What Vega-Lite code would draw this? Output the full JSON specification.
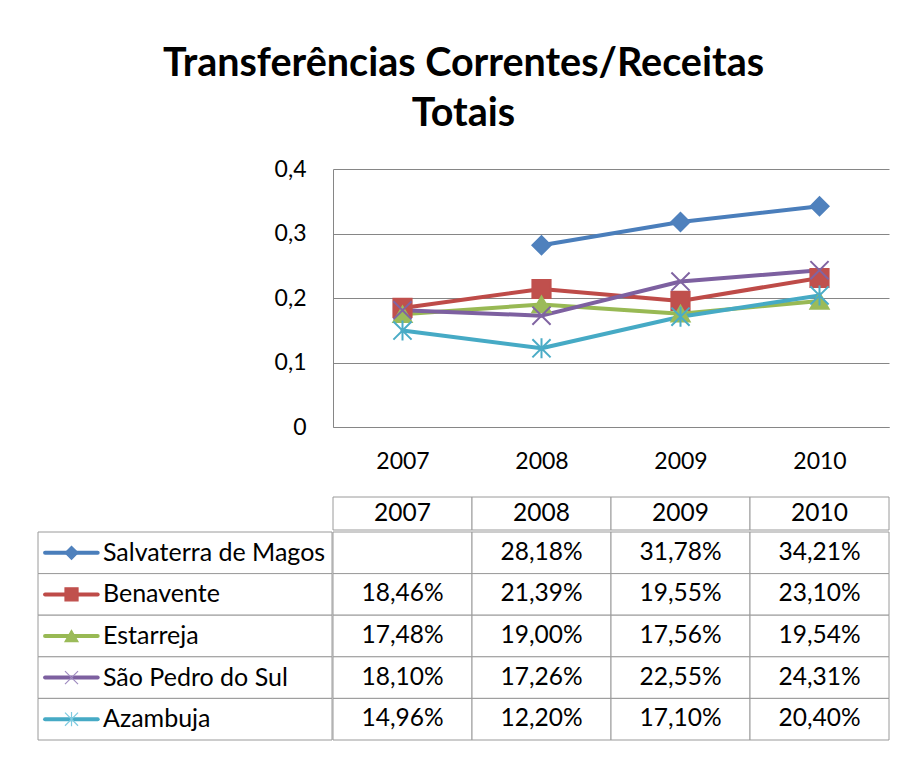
{
  "$schema": "https://vega.github.io/schema/vega-lite/v6.json",
  "background": "white",
  "autosize": {"type": "pad"},
  "padding": {"left": 37, "top": 43, "right": 14, "bottom": 15},
  "config": {
    "locale": {"number": {"decimal": ",", "thousands": ".", "grouping": [3], "currency": ["", " €"]}},
    "font": "Lato",
    "view": {"stroke": null},
    "concat": {"spacing": 0}
  },
  "title": {
    "text": ["Transferências Correntes/Receitas", "Totais"],
    "font": "Lato",
    "fontSize": 39.5,
    "fontWeight": "bold",
    "lineHeight": 50,
    "anchor": "middle",
    "offset": 24,
    "color": "#000000"
  },
  "datasets": {
    "d": [
      {"serie": "Salvaterra de Magos", "ano": "2007", "v": null},
      {"serie": "Salvaterra de Magos", "ano": "2008", "v": 0.2818},
      {"serie": "Salvaterra de Magos", "ano": "2009", "v": 0.3178},
      {"serie": "Salvaterra de Magos", "ano": "2010", "v": 0.3421},
      {"serie": "Benavente", "ano": "2007", "v": 0.1846},
      {"serie": "Benavente", "ano": "2008", "v": 0.2139},
      {"serie": "Benavente", "ano": "2009", "v": 0.1955},
      {"serie": "Benavente", "ano": "2010", "v": 0.2310},
      {"serie": "Estarreja", "ano": "2007", "v": 0.1748},
      {"serie": "Estarreja", "ano": "2008", "v": 0.1900},
      {"serie": "Estarreja", "ano": "2009", "v": 0.1756},
      {"serie": "Estarreja", "ano": "2010", "v": 0.1954},
      {"serie": "São Pedro do Sul", "ano": "2007", "v": 0.1810},
      {"serie": "São Pedro do Sul", "ano": "2008", "v": 0.1726},
      {"serie": "São Pedro do Sul", "ano": "2009", "v": 0.2255},
      {"serie": "São Pedro do Sul", "ano": "2010", "v": 0.2431},
      {"serie": "Azambuja", "ano": "2007", "v": 0.1496},
      {"serie": "Azambuja", "ano": "2008", "v": 0.1220},
      {"serie": "Azambuja", "ano": "2009", "v": 0.1710},
      {"serie": "Azambuja", "ano": "2010", "v": 0.2040}
    ],
    "anos": [{"ano": "2007"}, {"ano": "2008"}, {"ano": "2009"}, {"ano": "2010"}],
    "series": [
      {"serie": "Salvaterra de Magos"},
      {"serie": "Benavente"},
      {"serie": "Estarreja"},
      {"serie": "São Pedro do Sul"},
      {"serie": "Azambuja"}
    ],
    "vazio": []
  },
  "spacing": -71,
  "resolve": {"scale": {"x": "independent", "y": "independent", "color": "independent", "shape": "independent", "fill": "independent", "stroke": "independent"}},
  "hconcat": [
    {
      "spacing": 0,
      "resolve": {"scale": {"x": "independent", "y": "independent", "color": "independent", "shape": "independent", "fill": "independent", "stroke": "independent"}},
      "vconcat": [
        {
          "width": 294,
          "height": 362,
          "data": {"name": "vazio"},
          "mark": "point"
        },
        {
          "width": 294,
          "height": 208,
          "data": {"name": "series"},
          "encoding": {
            "y": {"field": "serie", "type": "nominal", "sort": null,
              "scale": {"domain": ["Salvaterra de Magos", "Benavente", "Estarreja", "São Pedro do Sul", "Azambuja"], "paddingInner": 0, "paddingOuter": 0}, "axis": null}
          },
          "layer": [
            {
              "mark": {"type": "rect", "fill": "white", "stroke": "#9A9A9A", "strokeWidth": 1},
              "encoding": {
                "x": {"datum": 0, "type": "quantitative", "scale": {"domain": [0, 1], "nice": false, "zero": true}, "axis": null},
                "x2": {"datum": 1}
              }
            },
            {
              "mark": {"type": "rule", "strokeWidth": 4, "strokeCap": "round"},
              "encoding": {
                "x": {"datum": 0.024, "type": "quantitative"},
                "x2": {"datum": 0.203},
                "color": {"field": "serie", "type": "nominal", "legend": null,
                  "scale": {"domain": ["Salvaterra de Magos", "Benavente", "Estarreja", "São Pedro do Sul", "Azambuja"], "range": ["#4A7EBB", "#BE4B48", "#98B954", "#7D60A0", "#46AAC5"]}}
              }
            },
            {
              "mark": {"type": "point", "filled": true, "opacity": 1, "strokeWidth": 1.2, "size": 170},
              "encoding": {
                "x": {"datum": 0.114, "type": "quantitative"},
                "shape": {"field": "serie", "type": "nominal", "legend": null,
                  "scale": {"domain": ["Salvaterra de Magos", "Benavente", "Estarreja", "São Pedro do Sul", "Azambuja"], "range": ["diamond", "square", "triangle-up", "M-1,-1L1,1M1,-1L-1,1", "M-1,-1L1,1M1,-1L-1,1M0,-1.1L0,1.1"]}},
                "fill": {"field": "serie", "type": "nominal", "legend": null,
                  "scale": {"domain": ["Salvaterra de Magos", "Benavente", "Estarreja", "São Pedro do Sul", "Azambuja"], "range": ["#4F81BD", "#C0504D", "#9BBB59", "transparent", "transparent"]}},
                "stroke": {"field": "serie", "type": "nominal", "legend": null,
                  "scale": {"domain": ["Salvaterra de Magos", "Benavente", "Estarreja", "São Pedro do Sul", "Azambuja"], "range": ["#4F81BD", "#C0504D", "#9BBB59", "#A08CC0", "#7FCBE0"]}}
              }
            },
            {
              "mark": {"type": "text", "align": "left", "baseline": "middle", "fontSize": 25, "color": "#000000"},
              "encoding": {
                "x": {"datum": 0.221, "type": "quantitative"},
                "text": {"field": "serie"}
              }
            }
          ]
        }
      ]
    },
    {
      "spacing": 0,
      "resolve": {"scale": {"x": "independent", "y": "independent", "color": "independent", "shape": "independent", "fill": "independent", "stroke": "independent"}},
      "vconcat": [
        {
          "width": 556,
          "height": 258,
          "data": {"name": "d"},
          "transform": [{"filter": "datum.v != null"}],
          "encoding": {
            "x": {
              "field": "ano", "type": "nominal",
              "scale": {"type": "point", "padding": 0.5},
              "axis": {"title": null, "labelAngle": 0, "labelFontSize": 23, "labelColor": "#000000", "labelPadding": 23, "ticks": false, "tickSize": 0, "domain": true, "domainColor": "#868686", "grid": false, "minExtent": 69, "maxExtent": 69}
            },
            "y": {
              "field": "v", "type": "quantitative",
              "scale": {"domain": [0, 0.4], "nice": false, "zero": true},
              "axis": {"title": null, "values": [0, 0.1, 0.2, 0.3, 0.4], "format": ".1~f", "labelFontSize": 23, "labelColor": "#000000", "labelPadding": 27, "ticks": false, "tickSize": 0, "domain": true, "domainColor": "#868686", "grid": true, "gridColor": "#868686", "gridOpacity": 1, "minExtent": 70, "maxExtent": 70}
            }
          },
          "layer": [
            {
              "mark": {"type": "line", "strokeWidth": 4, "strokeJoin": "round", "strokeCap": "round"},
              "encoding": {
                "color": {"field": "serie", "type": "nominal", "legend": null,
                  "scale": {"domain": ["Salvaterra de Magos", "Benavente", "Estarreja", "São Pedro do Sul", "Azambuja"], "range": ["#4A7EBB", "#BE4B48", "#98B954", "#7D60A0", "#46AAC5"]}}
              }
            },
            {
              "mark": {"type": "point", "filled": true, "opacity": 1, "strokeWidth": 2, "size": 330},
              "encoding": {
                "shape": {"field": "serie", "type": "nominal", "legend": null,
                  "scale": {"domain": ["Salvaterra de Magos", "Benavente", "Estarreja", "São Pedro do Sul", "Azambuja"], "range": ["diamond", "square", "triangle-up", "M-1,-1L1,1M1,-1L-1,1", "M-1,-1L1,1M1,-1L-1,1M0,-1.1L0,1.1"]}},
                "fill": {"field": "serie", "type": "nominal", "legend": null,
                  "scale": {"domain": ["Salvaterra de Magos", "Benavente", "Estarreja", "São Pedro do Sul", "Azambuja"], "range": ["#4F81BD", "#C0504D", "#9BBB59", "transparent", "transparent"]}},
                "stroke": {"field": "serie", "type": "nominal", "legend": null,
                  "scale": {"domain": ["Salvaterra de Magos", "Benavente", "Estarreja", "São Pedro do Sul", "Azambuja"], "range": ["#4F81BD", "#C0504D", "#9BBB59", "#8064A2", "#4BACC6"]}}
              }
            }
          ]
        },
        {
          "width": 556,
          "height": 33,
          "data": {"name": "anos"},
          "encoding": {
            "x": {"field": "ano", "type": "nominal", "scale": {"paddingInner": 0, "paddingOuter": 0}, "axis": null}
          },
          "layer": [
            {"mark": {"type": "rect", "fill": "white", "stroke": "#9A9A9A", "strokeWidth": 1}},
            {"mark": {"type": "text", "fontSize": 24.5, "color": "#000000"}, "encoding": {"text": {"field": "ano"}}}
          ]
        },
        {
          "width": 556,
          "height": 208,
          "data": {"name": "d"},
          "encoding": {
            "x": {"field": "ano", "type": "nominal", "scale": {"paddingInner": 0, "paddingOuter": 0}, "axis": null},
            "y": {"field": "serie", "type": "nominal", "sort": null,
              "scale": {"domain": ["Salvaterra de Magos", "Benavente", "Estarreja", "São Pedro do Sul", "Azambuja"], "paddingInner": 0, "paddingOuter": 0}, "axis": null}
          },
          "layer": [
            {"mark": {"type": "rect", "fill": "white", "stroke": "#9A9A9A", "strokeWidth": 1}},
            {
              "transform": [{"filter": "datum.v != null"}],
              "mark": {"type": "text", "fontSize": 24.5, "color": "#000000"},
              "encoding": {"text": {"field": "v", "type": "quantitative", "format": ".2%"}}
            }
          ]
        }
      ]
    }
  ]
}
